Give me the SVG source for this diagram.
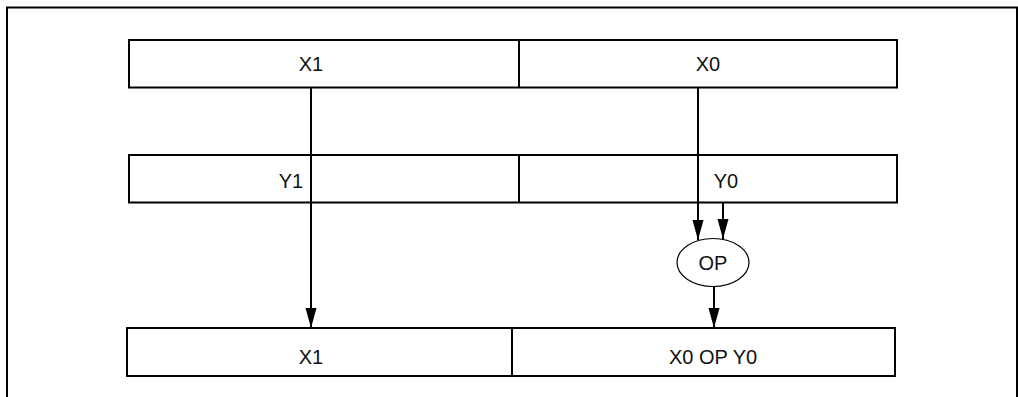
<svg xmlns="http://www.w3.org/2000/svg" width="1018" height="397" viewBox="0 0 1018 397">
  <style>
    .box { fill: #fff; stroke: #000; stroke-width: 2; }
    .div { stroke: #000; stroke-width: 2; }
    .lbl { font-family: "Liberation Sans", Arial, sans-serif; font-size: 20px; fill: #111; text-anchor: middle; }
    .conn { stroke: #000; stroke-width: 2; fill: none; marker-end: url(#arr); }
    .op { fill: #fff; stroke: #000; stroke-width: 1.2; }
  </style>
  <defs>
    <marker id="arr" markerUnits="userSpaceOnUse" markerWidth="20" markerHeight="12" refX="20" refY="6" orient="auto" viewBox="0 0 20 12">
      <path d="M0,0.5 L20,6 L0,11.5 Z" fill="#000"/>
    </marker>
  </defs>
  <rect x="0" y="0" width="1018" height="397" fill="#fff"/>
  <rect id="frame" x="7" y="7.5" width="1010" height="400" fill="none" stroke="#000" stroke-width="2"/>

  <g id="row-x">
    <rect class="box" x="129" y="40" width="768" height="47.5"/>
    <line class="div" x1="519" y1="40" x2="519" y2="87.5"/>
  </g>
  <g id="x1-top"><text class="lbl" x="311" y="71">X1</text></g>
  <g id="x0-top"><text class="lbl" x="708" y="71">X0</text></g>

  <g id="row-y">
    <rect class="box" x="129" y="155" width="768" height="47.5"/>
    <line class="div" x1="519" y1="155" x2="519" y2="202.5"/>
  </g>
  <g id="y1"><text class="lbl" x="291" y="188">Y1</text></g>
  <g id="y0"><text class="lbl" x="726" y="188">Y0</text></g>

  <g id="row-out">
    <rect class="box" x="127" y="328" width="768" height="48"/>
    <line class="div" x1="512" y1="328" x2="512" y2="376"/>
  </g>
  <g id="x1-out"><text class="lbl" x="311" y="364">X1</text></g>
  <g id="res"><text class="lbl" x="713" y="364">X0 OP Y0</text></g>

  <g id="op">
    <ellipse class="op" cx="713" cy="262.5" rx="36" ry="24"/>
    <text class="lbl" x="713" y="270">OP</text>
  </g>

  <g id="connectors">
    <line class="conn" x1="311" y1="87.5" x2="311" y2="328"/>
    <line class="conn" x1="698" y1="87.5" x2="698" y2="240"/>
    <line class="conn" x1="723" y1="202.5" x2="723" y2="239"/>
    <line class="conn" x1="714" y1="286.5" x2="714" y2="328"/>
  </g>
</svg>
